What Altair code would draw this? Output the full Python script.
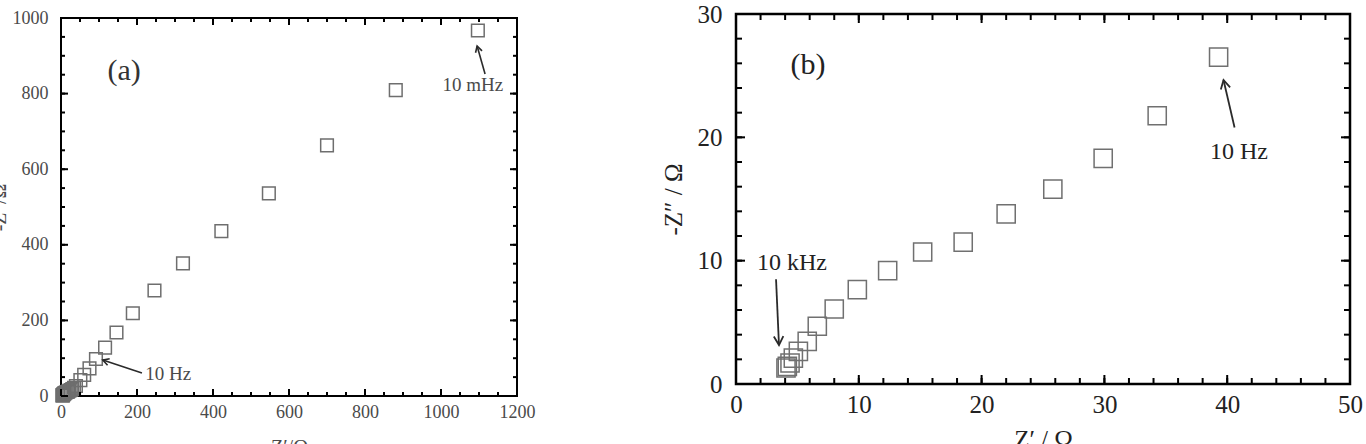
import math
import altair as alt
import pandas as pd

SERIF = "Liberation Serif"

# ---------------- panel (a): whole sweep, 10 kHz ... 10 mHz ----------------
a_zre = [4.2, 4.4, 4.6, 5.0, 5.7, 6.6, 8.0, 9.9, 12.4, 15.2, 18.5, 22.0, 25.8, 29.9,
         34.3, 39.3, 51, 61, 75, 92, 116, 146, 189, 246, 321, 422, 547, 700, 881, 1097]
a_zim = [1.5, 1.7, 2.1, 2.7, 3.5, 4.7, 6.1, 7.6, 9.2, 10.7, 11.5, 13.8, 15.8, 18.3,
         21.8, 26.5, 42, 56, 73, 98, 128, 168, 219, 279, 351, 436, 536, 663, 809, 967]
a_xticks = [0, 200, 400, 600, 800, 1000, 1200]
a_yticks = [0, 200, 400, 600, 800, 1000]
a_tag = ["(a)"]
a_tag_x = [166]
a_tag_y = [860]
a_freq = ["10 mHz", "10 Hz"]
a_freq_x = [1084, 282]
a_freq_y = [823, 58]
# arrows: tail (x, y) -> head (x, y)
a_arrow_tx = [1116, 213]
a_arrow_ty = [852, 61]
a_arrow_hx = [1095, 110]
a_arrow_hy = [926, 95]

# ---------------- panel (b): high-frequency part, 10 kHz ... 10 Hz ----------------
b_zre = [4.07, 4.18, 4.4, 4.67, 5.08, 5.8, 6.62, 8.0, 9.88, 12.35, 15.2, 18.5, 22.0,
         25.8, 29.9, 34.3, 39.3]
b_zim = [1.3, 1.43, 1.7, 2.1, 2.65, 3.46, 4.68, 6.08, 7.65, 9.19, 10.7, 11.5, 13.8,
         15.8, 18.3, 21.75, 26.5]
b_xticks = [0, 10, 20, 30, 40, 50]
b_yticks = [0, 10, 20, 30]
b_tag = ["(b)"]
b_tag_x = [5.86]
b_tag_y = [25.9]
b_freq = ["10 Hz", "10 kHz"]
b_freq_x = [40.96, 4.56]
b_freq_y = [18.8, 9.8]
b_arrow_tx = [40.6, 3.26]
b_arrow_ty = [20.8, 8.5]
b_arrow_hx = [39.7, 3.5]
b_arrow_hy = [24.65, 3.16]

CHEVRON = "M -0.55 1 L 0 0 L 0.55 1"


def build_panel(W, H, xdom, ydom, xaxis, yaxis, zre, zim, pt_size, pt_color,
                xmaj, xmin, ymaj, ymin, tick_major, tick_minor, tick_w,
                tags, tag_x, tag_y, tag_size, tag_color,
                freqs, freq_x, freq_y, freq_size, freq_color,
                atx, aty, ahx, ahy, head_size, arrow_w, frame_w):
    def X(field):
        return alt.X(f"{field}:Q", scale=alt.Scale(domain=xdom, nice=False, zero=False), axis=xaxis)

    def Y(field):
        return alt.Y(f"{field}:Q", scale=alt.Scale(domain=ydom, nice=False, zero=False), axis=yaxis)

    pts = alt.Chart(pd.DataFrame({"zre": zre, "zim": zim})).mark_point(
        shape="square", filled=False, size=pt_size, strokeWidth=1.5, color=pt_color, opacity=1
    ).encode(x=X("zre"), y=Y("zim"))

    layers = [pts]
    # inward ticks on all four sides of the frame
    for vals, L in ((xmaj, tick_major), (xmin, tick_minor)):
        d = pd.DataFrame({"v": vals})
        layers.append(alt.Chart(d).mark_rule(color="black", strokeWidth=tick_w).encode(
            x=X("v"), y=alt.value(H), y2=alt.value(H - L)))
        layers.append(alt.Chart(d).mark_rule(color="black", strokeWidth=tick_w).encode(
            x=X("v"), y=alt.value(0), y2=alt.value(L)))
    for vals, L in ((ymaj, tick_major), (ymin, tick_minor)):
        d = pd.DataFrame({"v": vals})
        layers.append(alt.Chart(d).mark_rule(color="black", strokeWidth=tick_w).encode(
            y=Y("v"), x=alt.value(0), x2=alt.value(L)))
        layers.append(alt.Chart(d).mark_rule(color="black", strokeWidth=tick_w).encode(
            y=Y("v"), x=alt.value(W), x2=alt.value(W - L)))

    layers.append(alt.Chart(pd.DataFrame({"t": tags, "x": tag_x, "y": tag_y})).mark_text(
        font=SERIF, fontSize=tag_size, color=tag_color, align="center", baseline="middle"
    ).encode(x=X("x"), y=Y("y"), text="t:N"))
    layers.append(alt.Chart(pd.DataFrame({"t": freqs, "x": freq_x, "y": freq_y})).mark_text(
        font=SERIF, fontSize=freq_size, color=freq_color, align="center", baseline="middle"
    ).encode(x=X("x"), y=Y("y"), text="t:N"))

    # arrow direction in screen space (clockwise from "up")
    xs = W / (xdom[1] - xdom[0])
    ys = H / (ydom[1] - ydom[0])
    ang = [math.degrees(math.atan2((hx - tx) * xs, (hy - ty) * ys)) % 360
           for tx, ty, hx, hy in zip(atx, aty, ahx, ahy)]
    adf = pd.DataFrame({"tx": atx, "ty": aty, "hx": ahx, "hy": ahy, "ang": ang})
    layers.append(alt.Chart(adf).mark_rule(color="#2a2a2a", strokeWidth=arrow_w).encode(
        x=X("tx"), y=Y("ty"), x2="hx:Q", y2="hy:Q"))
    layers.append(alt.Chart(adf).mark_point(
        shape=CHEVRON, filled=False, size=head_size, strokeWidth=arrow_w, color="#2a2a2a", opacity=1
    ).encode(x=X("hx"), y=Y("hy"), angle=alt.Angle("ang:Q", scale=None)))

    return alt.layer(*layers).properties(
        width=W, height=H,
        view=alt.ViewBackground(stroke="black", strokeWidth=frame_w, fill="white"),
    )


axis_a_x = alt.Axis(values=a_xticks, format="d", ticks=False, domain=False, grid=False,
                    labelFont=SERIF, labelFontSize=18, labelColor="#4a4a4a", labelPadding=7,
                    labelFlush=False, labelOverlap=False,
                    title="Z′/Ω", titleFont=SERIF, titleFontSize=20, titleFontWeight="normal",
                    titleColor="#4a4a4a", titlePadding=16)
axis_a_y = alt.Axis(values=a_yticks, format="d", ticks=False, domain=False, grid=False,
                    labelFont=SERIF, labelFontSize=18, labelColor="#4a4a4a", labelPadding=13,
                    labelFlush=False, labelOverlap=False,
                    title="-Z″/Ω", titleFont=SERIF, titleFontSize=20, titleFontWeight="normal",
                    titleColor="#4a4a4a", titlePadding=3)
axis_b_x = alt.Axis(values=b_xticks, format="d", ticks=False, domain=False, grid=False,
                    labelFont=SERIF, labelFontSize=25, labelColor="#222222", labelPadding=8,
                    labelFlush=False, labelOverlap=False,
                    title="Z′ / Ω", titleFont=SERIF, titleFontSize=25, titleFontWeight="normal",
                    titleColor="#222222", titlePadding=10)
axis_b_y = alt.Axis(values=b_yticks, format="d", ticks=False, domain=False, grid=False,
                    labelFont=SERIF, labelFontSize=25, labelColor="#222222", labelPadding=14,
                    labelFlush=False, labelOverlap=False,
                    title="-Z″ / Ω", titleFont=SERIF, titleFontSize=25, titleFontWeight="normal",
                    titleColor="#222222", titlePadding=11)

PANEL_A_W = 456
panel_a = build_panel(
    PANEL_A_W, 378, [0, 1200], [0, 1000], axis_a_x, axis_a_y, a_zre, a_zim, 160, "#6e6e6e",
    a_xticks, list(range(0, 1201, 50)), a_yticks, list(range(0, 1001, 50)), 7, 4, 2,
    a_tag, a_tag_x, a_tag_y, 30, "#333333",
    a_freq, a_freq_x, a_freq_y, 19, "#4a4a4a",
    a_arrow_tx, a_arrow_ty, a_arrow_hx, a_arrow_hy, 150, 1.6, 2)

panel_b = build_panel(
    614, 370, [0, 50], [0, 30], axis_b_x, axis_b_y, b_zre, b_zim, 330, "#707070",
    b_xticks, list(range(0, 51, 2)), b_yticks, list(range(0, 31, 2)), 9, 6, 2,
    b_tag, b_tag_x, b_tag_y, 30, "#222222",
    b_freq, b_freq_x, b_freq_y, 24, "#222222",
    b_arrow_tx, b_arrow_ty, b_arrow_hx, b_arrow_hy, 300, 1.8, 2.5)

# small blank strip that lowers panel (a) slightly relative to panel (b)
spacer = alt.Chart(pd.DataFrame({"v": [0]})).mark_text(text="").encode(
    x=alt.value(0)
).properties(width=PANEL_A_W, height=4, view=alt.ViewBackground(strokeOpacity=0))

left = alt.vconcat(spacer, panel_a, spacing=0, bounds="flush")

# the nested column counts as zero width in a flush layout, so the gap
# includes the width of panel (a)
chart = alt.hconcat(left, panel_b, spacing=PANEL_A_W + 219, bounds="flush").properties(
    autosize=alt.AutoSizeParams(type="none"),
    padding={"left": 61, "top": 14, "right": 1305, "bottom": 430},
    background="white",
)

chart.save("out.html", embed_options={"renderer": "svg", "actions": False})
